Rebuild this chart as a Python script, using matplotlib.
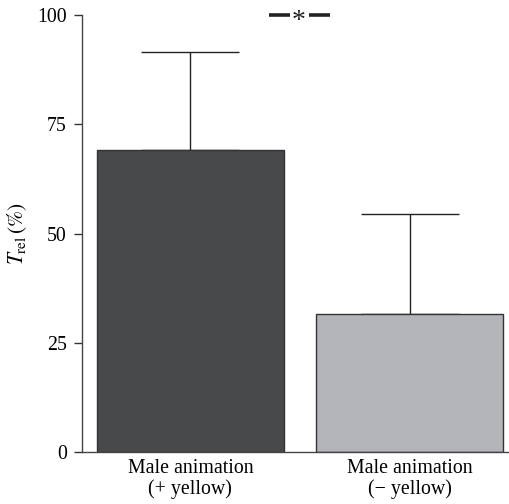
import numpy as np
import matplotlib
matplotlib.use("Agg")
import matplotlib.pyplot as plt

# data
labels = ["Male animation\n(+ yellow)", "Male animation\n(\u2212 yellow)"]
means = [69.2, 31.6]
errors = [22.4, 22.8]
colors = ["#48494b", "#b4b5b8"]
yticks = [0, 25, 50, 75, 100]

plt.rcParams["font.family"] = ["Liberation Serif", "DejaVu Serif"]
plt.rcParams["mathtext.fontset"] = "stix"

fig = plt.figure(figsize=(5.09, 5.04), dpi=100)
ax = fig.add_axes([0.161, 0.103, 0.839, 0.867])

x = np.arange(len(means))
ax.bar(x, means, width=0.854, color=colors, edgecolor="#333333", linewidth=1.0, zorder=2)

# upper error bars only
ax.errorbar(x, means, yerr=[np.zeros(len(errors)), errors], fmt="none",
            ecolor="#222222", elinewidth=1.0, capsize=49 * 72 / 100, capthick=1.0, zorder=1)

# significance mark between bars
mid = x.mean()
ax.plot([mid - 0.142, mid - 0.046], [100, 100], color="#222222", lw=2.6, solid_capstyle="butt", clip_on=False)
ax.plot([mid + 0.041, mid + 0.137], [100, 100], color="#222222", lw=2.6, solid_capstyle="butt", clip_on=False)
ax.text(mid - 0.005, 98.6, "*", ha="center", va="center", fontsize=20, color="#222222")

ax.set_xlim(-0.495, 1.454)
ax.set_ylim(0, 100)
ax.set_yticks(yticks)
ax.set_xticks(x)
ax.set_xticklabels(labels, fontsize=14.3, linespacing=1.08)
ax.tick_params(axis="y", labelsize=14.3, length=6, width=1.0, pad=5, color="#333333")
ax.tick_params(axis="x", length=0, pad=5)

ax.spines["top"].set_visible(False)
ax.spines["right"].set_visible(False)
for s in ["left", "bottom"]:
    ax.spines[s].set_linewidth(1.0)
    ax.spines[s].set_color("#444444")

ax.set_ylabel(r"$T_{\mathrm{rel}}\,\mathit{(\%)}$", fontsize=15.5, labelpad=6)

fig.savefig("out.png", dpi=100)
